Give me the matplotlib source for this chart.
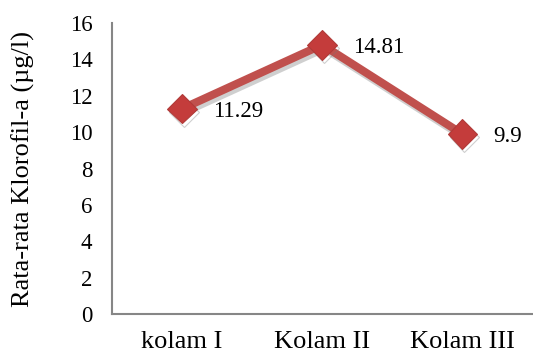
import matplotlib.pyplot as plt
import matplotlib.patheffects as pe

kolam = ['kolam I', 'Kolam II', 'Kolam III']
klorofil = [11.29, 14.81, 9.9]
yticks = [0, 2, 4, 6, 8, 10, 12, 14, 16]

plt.rcParams['font.family'] = ['Liberation Serif', 'DejaVu Serif']

fig = plt.figure(figsize=(5.33, 3.56), dpi=100)
ax = fig.add_axes([0.21, 0.118, 0.789, 0.817])

x = range(len(kolam))
shadow = [pe.SimpleLineShadow(offset=(1.5, -2.5), shadow_color='#777777', alpha=0.35), pe.Normal()]
ax.plot(x, klorofil, color='#C0504D', lw=5.8, solid_capstyle='butt',
        marker='D', markersize=15, markerfacecolor='#C43C3B', markeredgecolor='#B03A38',
        markeredgewidth=0.8, path_effects=shadow, zorder=3)

# value labels to the right of each point
for i, v in enumerate(klorofil):
    ax.annotate(f'{v:g}', (i, v), xytext=(22, -2), textcoords='offset points',
                ha='left', va='center', fontsize=16.5)

ax.set_xlim(-0.5, 2.5)
ax.set_ylim(0, 16)
ax.set_yticks(yticks)
ax.set_xticks(list(x))
ax.set_xticklabels(kolam, fontsize=19)
ax.tick_params(axis='both', length=0)
ax.tick_params(axis='y', pad=14, labelsize=16.5)
ax.tick_params(axis='x', pad=12)

for s in ['top', 'right']:
    ax.spines[s].set_visible(False)
for s in ['left', 'bottom']:
    ax.spines[s].set_color('#868686')
    ax.spines[s].set_linewidth(1.5)

ax.set_ylabel('Rata-rata Klorofil-a (µg/l)', fontsize=19)
ax.yaxis.set_label_coords(-0.183, 0.5)

fig.savefig('out.png', dpi=100)
